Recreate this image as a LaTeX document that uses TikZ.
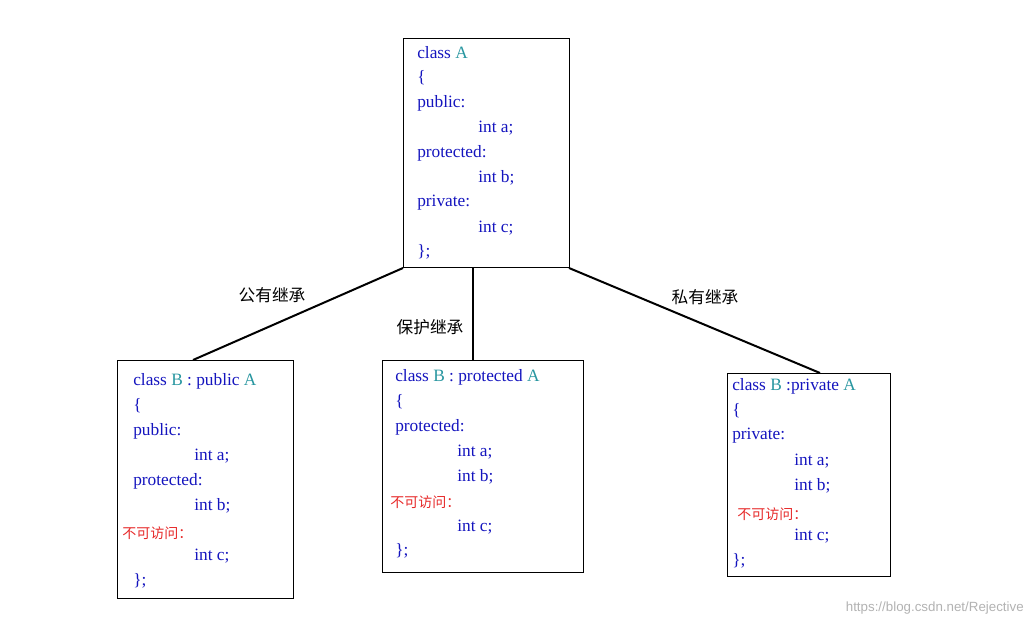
\documentclass[tikz,border=0pt]{standalone}
\usepackage{fontspec}
\setmainfont{Liberation Serif}
\newfontfamily\cjk{Noto Sans CJK SC}
\newfontfamily\wm{Liberation Sans}
\definecolor{kw}{RGB}{20,20,190}
\definecolor{cn}{RGB}{40,150,160}
\definecolor{rd}{RGB}{230,40,40}
\begin{document}
\begin{tikzpicture}[x=0.75pt,y=-0.75pt,
  box/.style={draw,line width=0.9pt},
  t/.style={anchor=west,inner sep=0pt,font=\fontsize{13}{14}\selectfont,text=kw},
  r/.style={anchor=west,inner sep=0pt,font=\cjk\fontsize{10.5}{11}\selectfont,text=rd},
  lab/.style={inner sep=0pt,font=\cjk\fontsize{12.5}{13}\selectfont},
  ln/.style={line width=1.5pt}]
\useasboundingbox (0,0) rectangle (1034,627);
\node[box,minimum width=124.5pt,minimum height=171.75pt,anchor=north west] (A) at (403,38) {};
\node[box,minimum width=132pt,minimum height=178.5pt,anchor=north west] (B1) at (117,360) {};
\node[box,minimum width=150.75pt,minimum height=159pt,anchor=north west] (B2) at (382,360) {};
\node[box,minimum width=122.25pt,minimum height=152.25pt,anchor=north west] (B3) at (727,373) {};
\coordinate (a1) at (403,268); \coordinate (a2) at (473,268); \coordinate (a3) at (569,268);
\coordinate (b1) at (193,360); \coordinate (b2) at (473,360); \coordinate (b3) at (820,373);
\draw[ln] (a1) -- (b1); \draw[ln] (a2) -- (b2); \draw[ln] (a3) -- (b3);
\node[lab] (l1) at (272,295) {公有继承};
\node[lab] (l2) at (430,327) {保护继承};
\node[lab] (l3) at (705,297) {私有继承};
% A
\node[t] (a01) at (417,53) {class \textcolor{cn}{A}};
\node[t] (a02) at (417,78) {\{};
\node[t] (a03) at (417,103) {public:};
\node[t] (a04) at (478,128) {int a;};
\node[t] (a05) at (417,153) {protected:};
\node[t] (a06) at (478,178) {int b;};
\node[t] (a07) at (417,203) {private:};
\node[t] (a08) at (478,228) {int c;};
\node[t] (a09) at (417,252) {\};};
% B1
\node[t] (b11) at (133,381) {class \textcolor{cn}{B} : public \textcolor{cn}{A}};
\node[t] (b12) at (133,406) {\{};
\node[t] (b13) at (133,431) {public:};
\node[t] (b14) at (194,456) {int a;};
\node[t] (b15) at (133,481) {protected:};
\node[t] (b16) at (194,506) {int b;};
\node[r] (b17) at (122,533) {不可访问：};
\node[t] (b18) at (194,556) {int c;};
\node[t] (b19) at (133,581) {\};};
% B2
\node[t] (b21) at (395,377) {class \textcolor{cn}{B} : protected \textcolor{cn}{A}};
\node[t] (b22) at (395,402) {\{};
\node[t] (b23) at (395,427) {protected:};
\node[t] (b24) at (457,452) {int a;};
\node[t] (b25) at (457,477) {int b;};
\node[r] (b26) at (390,502) {不可访问：};
\node[t] (b27) at (457,527) {int c;};
\node[t] (b28) at (395,551) {\};};
% B3
\node[t] (b31) at (732,386) {class \textcolor{cn}{B} :private \textcolor{cn}{A}};
\node[t] (b32) at (732,411) {\{};
\node[t] (b33) at (732,436) {private:};
\node[t] (b34) at (794,461) {int a;};
\node[t] (b35) at (794,486) {int b;};
\node[r] (b36) at (737,514) {不可访问：};
\node[t] (b37) at (794,536) {int c;};
\node[t] (b38) at (732,561) {\};};
\node[anchor=east,inner sep=0pt,text=gray!60,font=\wm\fontsize{10}{11}\selectfont] (w) at (1024,608) {https://blog.csdn.net/Rejective};
\end{tikzpicture}
\end{document}
